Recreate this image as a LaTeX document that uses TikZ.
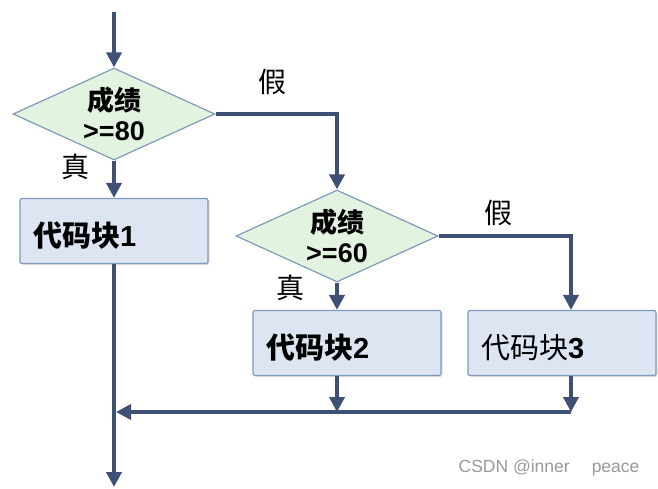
\documentclass[tikz,border=0pt]{standalone}
\usepackage{fontspec}
\setmainfont{Liberation Sans}
\newfontfamily\cjk{Noto Sans CJK SC}
\usetikzlibrary{shapes.geometric,shadows,arrows.meta}
\definecolor{linecol}{HTML}{3E5075}
\definecolor{decfill}{HTML}{E2F4E0}
\definecolor{blkfill}{HTML}{DCE5F1}
\definecolor{bordercol}{HTML}{8099BC}
\tikzstyle{decision}=[diamond,aspect=2.2,fill=decfill,draw=bordercol,line width=1.2pt,minimum width=202pt,minimum height=92pt,inner sep=0pt,align=center,font=\fontsize{27}{30}\selectfont\bfseries]
\tikzstyle{block}=[rectangle,rounded corners=2pt,fill=blkfill,draw=bordercol,line width=1.2pt,minimum width=188pt,minimum height=65pt,inner xsep=13pt,text width=162pt,text height=34pt,text depth=3pt,align=left,font=\fontsize{29}{32}\selectfont,drop shadow={opacity=0.25,shadow xshift=1.5pt,shadow yshift=-1.5pt}]
\tikzstyle{edge} = [draw=linecol,line width=4pt,-{Triangle[length=15pt,width=15pt]}]
\tikzstyle{branch} = [font=\cjk\fontsize{28}{30}\selectfont]
\tikzstyle{watermark} = [font=\fontsize{17.5}{18}\selectfont,text=black!40,anchor=east]

\begin{document}
\begin{tikzpicture}[x=1pt,y=-1pt]
    \useasboundingbox (0,0) rectangle (658,488);

    % conditions
    \node[decision] (d1) at (114,114) {{\cjk\bfseries 成绩}\\>=80};
    \node[decision] (d2) at (337,236) {{\cjk\bfseries 成绩}\\>=60};

    % code blocks
    \node[block] (b1) at (114,231) {{\cjk\bfseries 代码块}\textbf{1}};
    \node[block] (b2) at (347,343) {{\cjk\bfseries 代码块}\textbf{2}};
    \node[block] (b3) at (562,343) {{\cjk 代码块}\textbf{3}};

    \coordinate (start) at (114,12);
    \coordinate (end) at (114,487);
    \coordinate (j1) at (116,412);
    \coordinate (j2) at (337,412);
    \coordinate (j3) at (571,412);

    % branch labels
    \foreach \pos/\txt in {{(272,82)/假}, {(75,167)/真}, {(498,213)/假}, {(290,288)/真}}
        \node[branch] at \pos {\txt};

    % connect everything
    \foreach \source/ \dest in {start/d1, d1/b1, b1/end}
        \path[edge] (\source) -- (\dest);
    \path[edge] (d1.east) -| (d2.north);
    \path[edge] (d2.east) -| (j3 |- b3.north);
    \path[edge] (d2.south) -- (d2.south |- b2.north);
    \path[edge] (j2 |- b2.south) -- (j2);
    \path[edge] (j3 |- b3.south) -- (j3);
    \path[edge] (j3) -- (j1);

    \node[watermark] (wm) at (643,468) {CSDN @inner\hspace{22pt}peace};
\end{tikzpicture}
\end{document}
